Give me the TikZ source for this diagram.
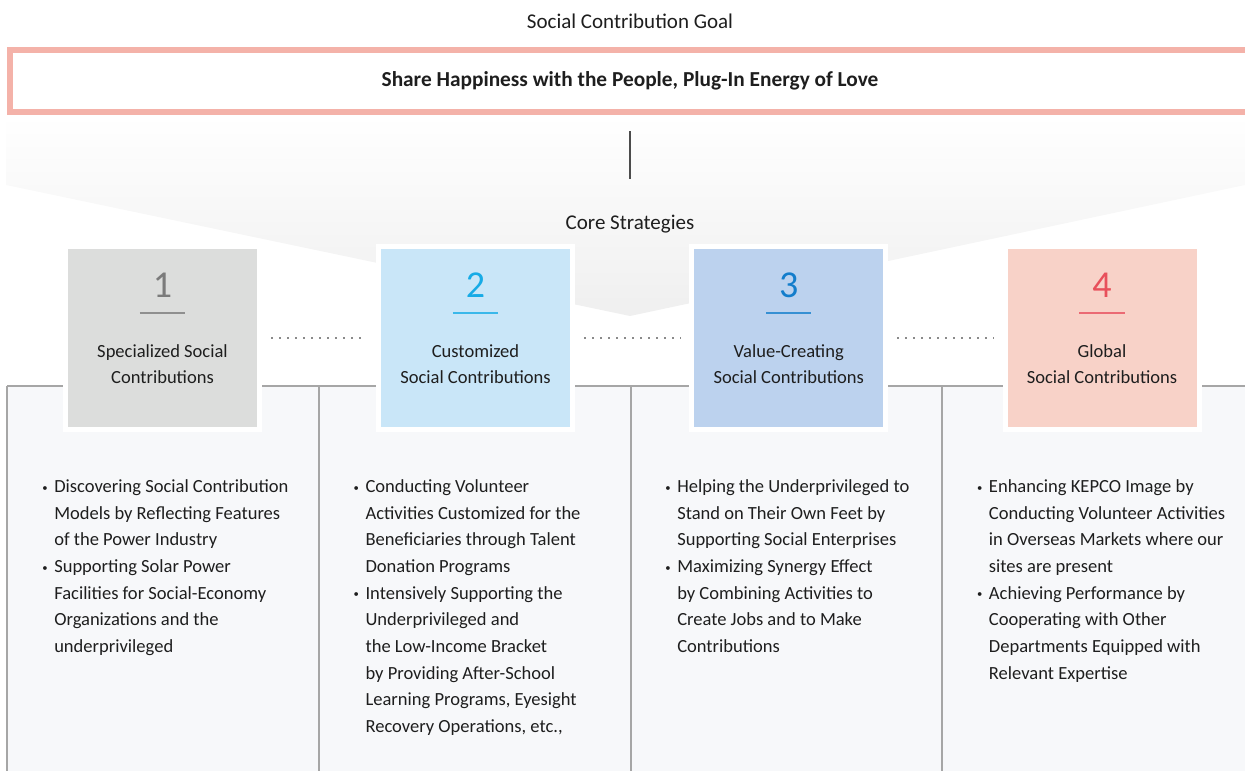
\documentclass[tikz,border=0pt]{standalone}
\usepackage{fontspec}
\setmainfont{Carlito}
\definecolor{pinkc}{HTML}{F4B2A9}
\definecolor{gshade}{HTML}{EFEFEF}
\definecolor{panelc}{HTML}{F7F8FA}
\definecolor{linec}{HTML}{A6A6A6}
\definecolor{txtc}{HTML}{1E1E1E}
\definecolor{dotc}{HTML}{8A8A8A}
\definecolor{bfa}{HTML}{DCDDDC}
\definecolor{nca}{HTML}{7B7B7B}
\definecolor{bfb}{HTML}{C9E6F8}
\definecolor{ncb}{HTML}{17ABE6}
\definecolor{bfc}{HTML}{BCD2EE}
\definecolor{ncc}{HTML}{137DCB}
\definecolor{bfd}{HTML}{F8D2C8}
\definecolor{ncd}{HTML}{E8505B}
\newcommand{\bul}{\llap{\raisebox{1pt}{\fontsize{8}{8}\selectfont •}\hspace{5pt}}}
\begin{document}
\begin{tikzpicture}[x=0.75pt,y=-0.75pt,
  every node/.style={inner sep=0pt, text=txtc},
  body/.style={align=left, anchor=base west, font=\fontsize{13.9}{20}\selectfont},
  ttl/.style={align=center, anchor=base, font=\fontsize{13.9}{19.2}\selectfont},
  num/.style={anchor=base, font=\fontsize{28.5}{30}\selectfont},
  sbox/.style={draw=white, line width=3.75pt, minimum width=145.5pt, minimum height=137.25pt},
  ulin/.style={line width=1.5pt},
  dots/.style={draw=dotc, line width=1.5pt, dash pattern=on 1.5pt off 4.5pt, shorten <=6.75pt, shorten >=6.75pt},
  gline/.style={draw=linec, line width=1pt}]
\useasboundingbox (0,0) rectangle (1245,771);
\clip (0,0) rectangle (1245,771);
% gradient funnel
\shade[top color=white, bottom color=gshade] (6,115) -- (1245,115) -- (1245,185) -- (630,316) -- (6,185) -- cycle;
% goal
\node[font=\fontsize{15.75}{18}\selectfont, anchor=base] (goal) at (630,28.3) {Social Contribution Goal};
\node[draw=pinkc, line width=4.5pt, minimum width=930.75pt, minimum height=46.5pt, font=\bfseries\fontsize{16}{18}\selectfont] (goalbox) at (630,81) {Share Happiness with the People, Plug-In Energy of Love};
\node[font=\fontsize{15.75}{18}\selectfont, anchor=base] (core) at (630,229.3) {Core Strategies};
\draw[draw=black!70, line width=1pt, shorten <=12pt, shorten >=27pt] (goalbox.south) -- (core.north);
% panels
\fill[panelc] (7,386) rectangle (1245,771);
\draw[gline] (7,386) -- (1245,386);
\foreach \xx in {7,319,631,942} \draw[gline] (\xx,386) -- (\xx,771);
% boxes
\node[sbox, fill=bfa] (box1) at (162.5,338) {};
\node[sbox, fill=bfb] (box2) at (475.5,338) {};
\node[sbox, fill=bfc] (box3) at (788.75,338) {};
\node[sbox, fill=bfd] (box4) at (1102,338) {};
\draw[dots] (box1) -- (box2);
\draw[dots] (box2) -- (box3);
\draw[dots] (box3) -- (box4);
% numbers
\node[num, text=nca] (n1) at (162.5,297) {1};
\node[num, text=ncb] (n2) at (475.5,297) {2};
\node[num, text=ncc] (n3) at (788.75,297) {3};
\node[num, text=ncd] (n4) at (1102,297) {4};
\draw[ulin, draw=nca!85] ([xshift=-16.9pt,yshift=-12pt]n1.base) -- ([xshift=16.9pt,yshift=-12pt]n1.base);
\draw[ulin, draw=ncb!85] ([xshift=-16.9pt,yshift=-12pt]n2.base) -- ([xshift=16.9pt,yshift=-12pt]n2.base);
\draw[ulin, draw=ncc!85] ([xshift=-16.9pt,yshift=-12pt]n3.base) -- ([xshift=16.9pt,yshift=-12pt]n3.base);
\draw[ulin, draw=ncd!85] ([xshift=-16.9pt,yshift=-12pt]n4.base) -- ([xshift=16.9pt,yshift=-12pt]n4.base);
% titles (base = last line)
\node[ttl] (t1) at (162.5,383.3) {Specialized Social\\Contributions};
\node[ttl] (t2) at (475.5,383.3) {Customized\\Social Contributions};
\node[ttl] (t3) at (788.75,383.3) {Value-Creating\\Social Contributions};
\node[ttl] (t4) at (1102,383.3) {Global\\Social Contributions};
% body (base = last line)
\node[body] (c1) at (54,652.5) {\bul Discovering Social Contribution\\Models by Reflecting Features\\of the Power Industry\\\bul Supporting Solar Power\\Facilities for Social-Economy\\Organizations and the\\underprivileged};
\node[body] (c2) at (365.3,732.5) {\bul Conducting Volunteer\\Activities Customized for the\\Beneficiaries through Talent\\Donation Programs\\\bul Intensively Supporting the\\Underprivileged and\\the Low-Income Bracket\\by Providing After-School\\Learning Programs, Eyesight\\Recovery Operations, etc.,};
\node[body] (c3) at (677,652.5) {\bul Helping the Underprivileged to\\Stand on Their Own Feet by\\Supporting Social Enterprises\\\bul Maximizing Synergy Effect\\by Combining Activities to\\Create Jobs and to Make\\Contributions};
\node[body] (c4) at (988.7,679.2) {\bul Enhancing KEPCO Image by\\Conducting Volunteer Activities\\in Overseas Markets where our\\sites are present\\\bul Achieving Performance by\\Cooperating with Other\\Departments Equipped with\\Relevant Expertise};
\end{tikzpicture}
\end{document}
